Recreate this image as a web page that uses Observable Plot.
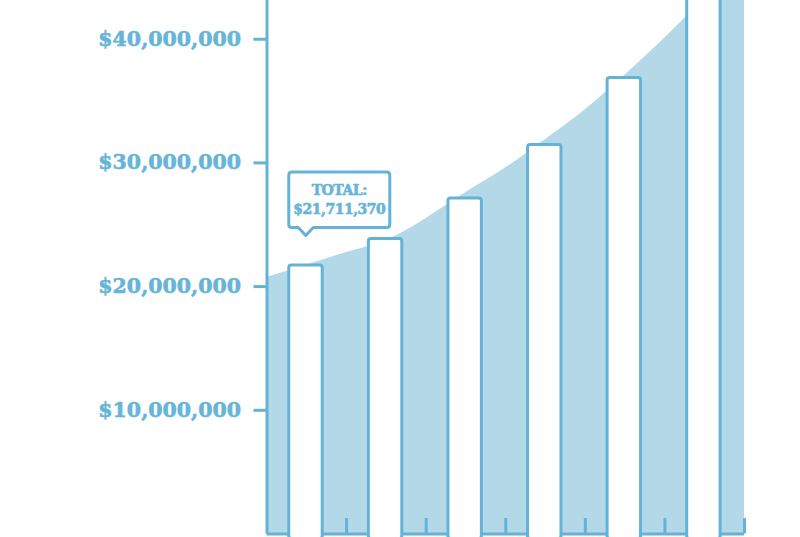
<!DOCTYPE html>
<html><head><meta charset="utf-8">
<script src="https://cdn.jsdelivr.net/npm/d3@7"></script>
<script src="https://cdn.jsdelivr.net/npm/@observablehq/plot@0.6"></script>
<style>
html,body{margin:0;padding:0;background:#fff;}
#chart{width:800px;height:537px;overflow:hidden;}
svg{display:block;}
svg text{stroke:#66b5d8;stroke-width:0.6px;stroke-linejoin:round;}
</style></head><body><div id="chart"></div>
<script>
// Bars (one per period; the last bar runs above the visible frame)
const barIndex = [0, 1, 2, 3, 4, 5];
const barValues = [21711370, 23850000, 27120000, 31450000, 36860000, 45500000];
// Shaded trend curve, read at half-period steps
const curveX = [0, 0.5, 1, 1.5, 2, 2.5, 3, 3.5, 4, 4.5, 5, 5.5, 6];
const curveValues = [20.74, 21.75, 22.75, 23.75, 25.5, 27.6, 29.6, 31.9, 34.3, 37.1, 40.1, 43.4, 47.2].map(v => v * 1e6);
// Axis ticks
const yTicks = [10000000, 20000000, 30000000, 40000000];
const periodBoundaries = [1, 2, 3, 4, 5, 6];
const calloutTitle = "TOTAL:";

const blue = "#64b3d6";
const textBlue = "#66b5d8";
const areaFill = "#b3d9e8";
const fontFam = "'DejaVu Serif',serif";

const bars = barIndex.map((i, k) => ({x1: i + 0.28, x2: i + 0.70, value: barValues[k]}));
const curve = curveX.map((x, k) => ({x, value: curveValues[k]}));

function callout(index, scales) {
  const x0 = scales.x(bars[0].x1);
  const y0 = scales.y(bars[0].value);
  const L = x0, R = x0 + 101, T = y0 - 93, B = y0 - 37.5, px = x0 + 17, py = y0 - 29.5, r = 3;
  const g = d3.create("svg:g");
  g.append("path")
    .attr("d", `M${L + r},${T}H${R - r}Q${R},${T} ${R},${T + r}V${B - r}Q${R},${B} ${R - r},${B}H${px + 7.5}L${px},${py}L${px - 7.5},${B}H${L + r}Q${L},${B} ${L},${B - r}V${T + r}Q${L},${T} ${L + r},${T}Z`)
    .attr("fill", "white").attr("stroke", blue).attr("stroke-width", 3).attr("stroke-linejoin", "round");
  const cx = (L + R) / 2;
  const t = g.append("text").attr("fill", textBlue).attr("text-anchor", "middle")
    .attr("font-family", fontFam).attr("font-weight", "bold").attr("font-size", 14)
    .attr("letter-spacing", -0.5);
  t.append("tspan").attr("x", cx).attr("y", T + 23.5).text(calloutTitle);
  t.append("tspan").attr("x", cx).attr("y", T + 42).text(d3.format("$,")(bars[0].value));
  return g.node();
}

const chart = Plot.plot({
  width: 800,
  height: 537,
  marginLeft: 266.5,
  marginRight: 56,
  marginTop: 0,
  marginBottom: 3.5,
  style: {background: "white", fontFamily: fontFam},
  x: {domain: [0, 6], axis: null},
  y: {domain: [0, 43130000], axis: null},
  marks: [
    Plot.areaY(curve, {x: "x", y: "value", fill: areaFill, curve: "natural", clip: true}),
    Plot.ruleY([0], {stroke: blue, strokeWidth: 3}),
    Plot.ruleX(periodBoundaries, {y1: 0, y2: 1250000, stroke: blue, strokeWidth: 3}),
    Plot.rect(bars, {x1: "x1", x2: "x2", y1: -400000, y2: "value", fill: "white", stroke: blue, strokeWidth: 3, rx: 2.5}),
    Plot.ruleX([0], {stroke: blue, strokeWidth: 3}),
    Plot.axisY(yTicks, {
      tickFormat: d3.format("$,"), tickSize: 13, tickPadding: 13,
      color: blue, fill: textBlue, strokeWidth: 3, fontSize: 20.5, fontWeight: "bold", fontFamily: fontFam, label: null,
      letterSpacing: -0.6
    }),
    callout
  ]
});
document.getElementById("chart").appendChild(chart);
</script>
</body></html>
